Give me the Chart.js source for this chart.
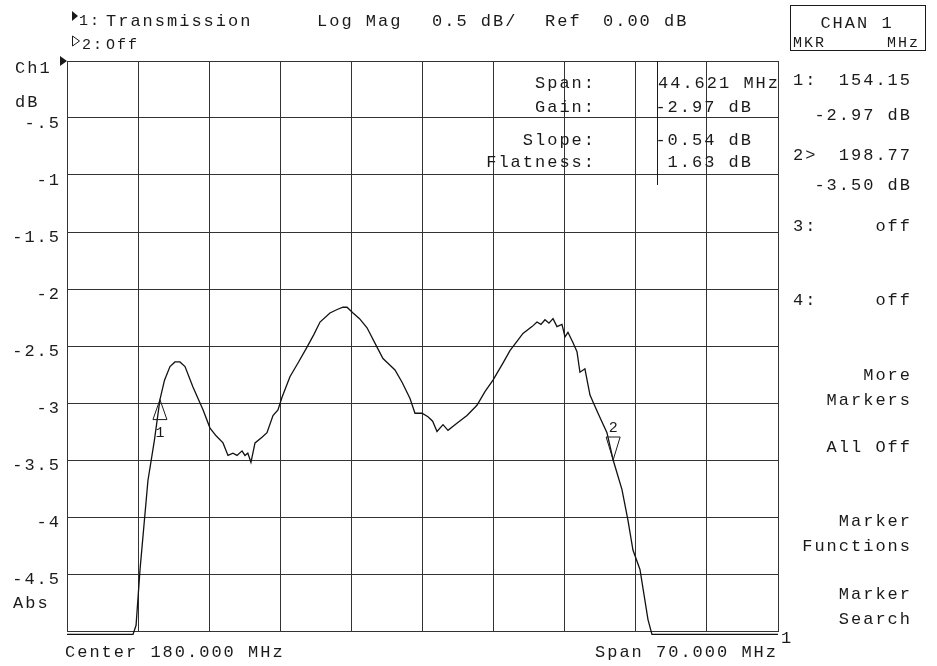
<!DOCTYPE html>
<html>
<head>
<meta charset="utf-8">
<script src="https://cdn.jsdelivr.net/npm/chart.js@4.4.1/dist/chart.umd.min.js"></script>
<style>
  html, body { margin: 0; padding: 0; background: #fff; }
  #lienzo { width: 937px; height: 666px; }
</style>
</head>
<body>
<div id="lienzo"><canvas id="grafico" width="937" height="666"></canvas></div>
<script>
const frecuencias = [
  145.00, 151.50, 151.80, 152.19, 152.97, 153.60, 154.15, 154.60, 155.14, 155.63,
  156.12, 156.62, 157.40, 158.39, 159.08, 159.70, 160.36, 160.85, 161.34, 161.74,
  162.23, 162.52, 162.80, 163.11, 163.51, 164.20, 164.69, 165.28, 165.77, 166.17,
  166.95, 167.80, 168.63, 169.30, 169.91, 170.89, 171.60, 172.17, 172.57, 173.16,
  173.80, 174.54, 175.52, 176.11, 176.70, 177.29, 178.00, 178.77, 179.26, 179.95,
  180.54, 181.00, 181.43, 182.02, 182.51, 183.20, 183.80, 184.38, 185.36, 186.15,
  186.94, 187.92, 188.61, 189.30, 189.89, 190.78, 191.27, 191.66, 192.06, 192.45,
  192.85, 193.24, 193.73, 194.03, 194.32, 194.81, 195.21, 195.50, 195.99, 196.49,
  197.28, 198.16, 198.77, 199.64, 200.23, 200.72, 201.41, 202.20, 202.59, 215.00
];
const transmision = [
  -5.03, -5.03, -4.95, -4.46, -3.68, -3.33, -2.97, -2.80, -2.68, -2.64,
  -2.64, -2.68, -2.86, -3.06, -3.22, -3.29, -3.35, -3.46, -3.44, -3.46,
  -3.42, -3.46, -3.44, -3.52, -3.35, -3.30, -3.26, -3.11, -3.06, -2.95,
  -2.77, -2.64, -2.51, -2.40, -2.29, -2.21, -2.18, -2.16, -2.16, -2.21,
  -2.26, -2.34, -2.51, -2.61, -2.66, -2.71, -2.82, -2.96, -3.09, -3.09,
  -3.12, -3.16, -3.25, -3.19, -3.24, -3.19, -3.15, -3.11, -3.02, -2.90,
  -2.80, -2.65, -2.54, -2.46, -2.39, -2.33, -2.29, -2.31, -2.27, -2.30,
  -2.26, -2.33, -2.31, -2.42, -2.38, -2.47, -2.55, -2.73, -2.70, -2.93,
  -3.09, -3.26, -3.50, -3.76, -4.03, -4.29, -4.46, -4.90, -5.03, -5.03
];

// Marcadores
const marcadoresNombre = ['1', '2'];
const marcadoresFrec = [154.15, 198.77];
const marcadoresDb = [-2.97, -3.50];

// Ejes
const frecMin = 145, frecMax = 215, frecPaso = 7;
const yValores = [0, -0.5, -1, -1.5, -2, -2.5, -3, -3.5, -4, -4.5, -5];
const yEtiquetas = ['', '-.5', '-1', '-1.5', '-2', '-2.5', '-3', '-3.5', '-4', '-4.5', ''];

// Estadísticas de la traza
const estadNombres = ['Span:', 'Gain:', 'Slope:', 'Flatness:'];
const estadValores = ['44.621 MHz', '-2.97 dB', '-0.54 dB', '1.63 dB'];

const FUENTE = '"Liberation Mono", "DejaVu Sans Mono", monospace';
const ESPACIO = 2.0;
const TINTA = '#1a1a1a';
const G = 17;  // tamaño normal de letra
const P = 15;  // tamaño chico

// Textos de la pantalla del instrumento
const textos = [
  { t: '1:', x: 79, y: 21, a: 'left', s: P },
  { t: 'Transmission', x: 106, y: 21, a: 'left', s: G },
  { t: 'Log Mag', x: 317, y: 21, a: 'left', s: G },
  { t: '0.5 dB/', x: 432, y: 21, a: 'left', s: G },
  { t: 'Ref', x: 545, y: 21, a: 'left', s: G },
  { t: '0.00 dB', x: 603, y: 21, a: 'left', s: G },
  { t: '2:', x: 82, y: 45, a: 'left', s: P },
  { t: 'Off', x: 106, y: 45, a: 'left', s: P },
  { t: 'CHAN 1', x: 856, y: 23, a: 'center', s: G },
  { t: 'MKR', x: 793, y: 43, a: 'left', s: P },
  { t: 'MHz', x: 918, y: 43, a: 'right', s: P },
  { t: 'Ch1', x: 15, y: 68, a: 'left', s: G },
  { t: 'dB', x: 15, y: 102, a: 'left', s: G },
  { t: 'Abs', x: 13, y: 603, a: 'left', s: G },
  { t: '1:', x: 793, y: 80, a: 'left', s: G },
  { t: marcadoresFrec[0].toFixed(2), x: 910, y: 80, a: 'right', s: G },
  { t: marcadoresDb[0].toFixed(2) + ' dB', x: 910, y: 115, a: 'right', s: G },
  { t: '2>', x: 793, y: 155, a: 'left', s: G },
  { t: marcadoresFrec[1].toFixed(2), x: 910, y: 155, a: 'right', s: G },
  { t: marcadoresDb[1].toFixed(2) + ' dB', x: 910, y: 185, a: 'right', s: G },
  { t: '3:', x: 793, y: 226, a: 'left', s: G },
  { t: 'off', x: 910, y: 226, a: 'right', s: G },
  { t: '4:', x: 793, y: 300, a: 'left', s: G },
  { t: 'off', x: 910, y: 300, a: 'right', s: G },
  { t: 'More', x: 910, y: 375, a: 'right', s: G },
  { t: 'Markers', x: 910, y: 400, a: 'right', s: G },
  { t: 'All Off', x: 910, y: 447, a: 'right', s: G },
  { t: 'Marker', x: 910, y: 521, a: 'right', s: G },
  { t: 'Functions', x: 910, y: 546, a: 'right', s: G },
  { t: 'Marker', x: 910, y: 594, a: 'right', s: G },
  { t: 'Search', x: 910, y: 619, a: 'right', s: G },
  { t: 'Center 180.000 MHz', x: 65, y: 652, a: 'left', s: G },
  { t: 'Span 70.000 MHz', x: 776, y: 652, a: 'right', s: G },
  { t: '1', x: 781, y: 638, a: 'left', s: G }
];
const estadY = [83, 107, 140, 162];
const estadFinValor = [778, 751, 751, 751];

function escribir(ctx, t, x, y, a, s) {
  ctx.font = s + 'px ' + FUENTE;
  ctx.textAlign = a;
  ctx.textBaseline = 'middle';
  let dx = 0;
  if (a === 'right') dx = ESPACIO;
  if (a === 'center') dx = ESPACIO / 2;
  ctx.fillText(t, x + dx, y);
}

// Plugin: textos, marcadores y triangulitos de la pantalla
const pantalla = {
  id: 'pantalla',
  beforeDraw(chart) {
    chart.ctx.letterSpacing = ESPACIO + 'px';
  },
  afterDraw(chart) {
    const ctx = chart.ctx;
    const xs = chart.scales.x, ys = chart.scales.y;
    const area = chart.chartArea;
    ctx.save();
    ctx.letterSpacing = ESPACIO + 'px';
    ctx.fillStyle = TINTA;
    ctx.strokeStyle = TINTA;
    ctx.lineWidth = 1;

    textos.forEach(o => escribir(ctx, o.t, o.x, o.y, o.a, o.s));
    estadNombres.forEach((n, i) => {
      escribir(ctx, n, 594, estadY[i], 'right', G);
      escribir(ctx, estadValores[i], estadFinValor[i], estadY[i], 'right', G);
    });

    // separador de la tabla
    ctx.beginPath();
    ctx.moveTo(657.5, area.top);
    ctx.lineTo(657.5, 185);
    ctx.stroke();

    // caja CHAN 1
    ctx.strokeRect(790.5, 5.5, 135, 45);

    // triángulo de referencia y de trazas
    ctx.beginPath();
    ctx.moveTo(area.left, area.top);
    ctx.lineTo(area.left - 7, area.top - 5);
    ctx.lineTo(area.left - 7, area.top + 5);
    ctx.closePath();
    ctx.fill();
    ctx.beginPath();
    ctx.moveTo(78, 16); ctx.lineTo(72, 11); ctx.lineTo(72, 21); ctx.closePath();
    ctx.fill();
    ctx.beginPath();
    ctx.moveTo(79.5, 41); ctx.lineTo(72.5, 36); ctx.lineTo(72.5, 46); ctx.closePath();
    ctx.stroke();

    // marcadores sobre la traza
    marcadoresFrec.forEach((f, i) => {
      const px = xs.getPixelForValue(f);
      const py = ys.getPixelForValue(marcadoresDb[i]);
      ctx.beginPath();
      if (i === 0) {
        ctx.moveTo(px, py);
        ctx.lineTo(px - 7, py + 20);
        ctx.lineTo(px + 7, py + 20);
      } else {
        ctx.moveTo(px, py);
        ctx.lineTo(px - 7, py - 23);
        ctx.lineTo(px + 7, py - 23);
      }
      ctx.closePath();
      ctx.stroke();
      escribir(ctx, marcadoresNombre[i], px, i === 0 ? py + 33 : py - 32, 'center', 15);
    });
    ctx.restore();
  }
};

const grafico = new Chart(document.getElementById('grafico').getContext('2d'), {
  type: 'line',
  data: {
    datasets: [{
      data: frecuencias.map((f, i) => ({ x: f, y: transmision[i] })),
      borderColor: '#111',
      borderWidth: 1.3,
      pointRadius: 0,
      tension: 0,
      fill: false,
      clip: false
    }]
  },
  options: {
    responsive: false,
    animation: false,
    devicePixelRatio: 1,
    layout: { padding: { top: 61, right: 159, bottom: 35, left: 0 } },
    plugins: { legend: { display: false }, tooltip: { enabled: false } },
    scales: {
      x: {
        type: 'linear',
        min: frecMin,
        max: frecMax,
        ticks: { display: false, stepSize: frecPaso },
        grid: { color: '#333', lineWidth: 1, drawTicks: false },
        border: { color: '#333', width: 1 },
        afterFit: s => { s.height = 0; }
      },
      y: {
        min: -5,
        max: 0,
        ticks: {
          stepSize: 0.5,
          padding: 6,
          labelOffset: 5,
          color: TINTA,
          font: { family: FUENTE, size: G },
          callback: v => {
            const i = yValores.findIndex(t => Math.abs(t - v) < 1e-6);
            return i >= 0 ? yEtiquetas[i] : '';
          }
        },
        grid: { color: '#333', lineWidth: 1, drawTicks: false },
        border: { color: '#333', width: 1 },
        afterFit: s => { s.width = 67; }
      }
    }
  },
  plugins: [pantalla]
});
</script>
</body>
</html>
